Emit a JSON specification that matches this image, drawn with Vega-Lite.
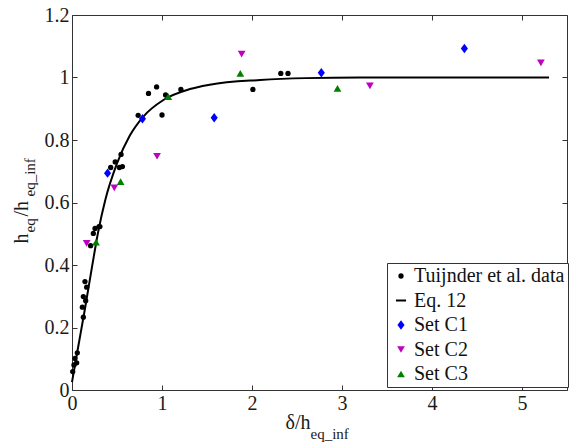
{
  "$schema": "https://vega.github.io/schema/vega-lite/v6.json",
  "width": 495,
  "height": 375,
  "autosize": {"type": "none"},
  "padding": {"left": 72, "top": 15, "right": 2, "bottom": 53},
  "background": "white",
  "config": {
    "view": {"stroke": null},
    "font": "serif",
    "axis": {
      "grid": false,
      "labelFont": "serif",
      "titleFont": "serif",
      "labelColor": "#1a1a1a",
      "titleColor": "#1a1a1a",
      "domainColor": "#333333",
      "tickColor": "#333333",
      "titleFontWeight": "normal"
    },
    "legend": {"labelFont": "serif"}
  },
  "datasets": {
    "curve": [
      {"x": 0, "y": 0.025},
      {"x": 0.035, "y": 0.083},
      {"x": 0.07, "y": 0.14},
      {"x": 0.144, "y": 0.26},
      {"x": 0.22, "y": 0.39},
      {"x": 0.29, "y": 0.505},
      {"x": 0.367, "y": 0.605},
      {"x": 0.5, "y": 0.725},
      {"x": 0.644, "y": 0.815},
      {"x": 0.793, "y": 0.875},
      {"x": 1.015, "y": 0.928},
      {"x": 1.31, "y": 0.963},
      {"x": 1.53, "y": 0.977},
      {"x": 2.09, "y": 0.992},
      {"x": 2.6, "y": 0.998},
      {"x": 3.2, "y": 1.0},
      {"x": 5.3, "y": 1.0}
    ],
    "pts": [
      {"series": "Tuijnder et al. data", "x": 0.008, "y": 0.059},
      {"series": "Tuijnder et al. data", "x": 0.022, "y": 0.08},
      {"series": "Tuijnder et al. data", "x": 0.033, "y": 0.101},
      {"series": "Tuijnder et al. data", "x": 0.052, "y": 0.087},
      {"series": "Tuijnder et al. data", "x": 0.059, "y": 0.119},
      {"series": "Tuijnder et al. data", "x": 0.115, "y": 0.265},
      {"series": "Tuijnder et al. data", "x": 0.126, "y": 0.233},
      {"series": "Tuijnder et al. data", "x": 0.126, "y": 0.299},
      {"series": "Tuijnder et al. data", "x": 0.144, "y": 0.347},
      {"series": "Tuijnder et al. data", "x": 0.152, "y": 0.286},
      {"series": "Tuijnder et al. data", "x": 0.163, "y": 0.329},
      {"series": "Tuijnder et al. data", "x": 0.207, "y": 0.462},
      {"series": "Tuijnder et al. data", "x": 0.237, "y": 0.501},
      {"series": "Tuijnder et al. data", "x": 0.256, "y": 0.517},
      {"series": "Tuijnder et al. data", "x": 0.3, "y": 0.523},
      {"series": "Tuijnder et al. data", "x": 0.31, "y": 0.523},
      {"series": "Tuijnder et al. data", "x": 0.43, "y": 0.712},
      {"series": "Tuijnder et al. data", "x": 0.48, "y": 0.73},
      {"series": "Tuijnder et al. data", "x": 0.526, "y": 0.712},
      {"series": "Tuijnder et al. data", "x": 0.56, "y": 0.715},
      {"series": "Tuijnder et al. data", "x": 0.545, "y": 0.754},
      {"series": "Tuijnder et al. data", "x": 0.735, "y": 0.879},
      {"series": "Tuijnder et al. data", "x": 0.85, "y": 0.949},
      {"series": "Tuijnder et al. data", "x": 0.94, "y": 0.97},
      {"series": "Tuijnder et al. data", "x": 1.0, "y": 0.88},
      {"series": "Tuijnder et al. data", "x": 1.04, "y": 0.944},
      {"series": "Tuijnder et al. data", "x": 1.21, "y": 0.962},
      {"series": "Tuijnder et al. data", "x": 2.01, "y": 0.962},
      {"series": "Tuijnder et al. data", "x": 2.32, "y": 1.013},
      {"series": "Tuijnder et al. data", "x": 2.4, "y": 1.013},
      {"series": "Set C1", "x": 0.395, "y": 0.694},
      {"series": "Set C1", "x": 0.783, "y": 0.868},
      {"series": "Set C1", "x": 1.58, "y": 0.871},
      {"series": "Set C1", "x": 2.77, "y": 1.015},
      {"series": "Set C1", "x": 4.36, "y": 1.093},
      {"series": "Set C2", "x": 0.163, "y": 0.469},
      {"series": "Set C2", "x": 0.47, "y": 0.647},
      {"series": "Set C2", "x": 0.945, "y": 0.748},
      {"series": "Set C2", "x": 1.885, "y": 1.075},
      {"series": "Set C2", "x": 3.31, "y": 0.973},
      {"series": "Set C2", "x": 5.21, "y": 1.047},
      {"series": "Set C3", "x": 0.267, "y": 0.473},
      {"series": "Set C3", "x": 0.54, "y": 0.667},
      {"series": "Set C3", "x": 1.07, "y": 0.939},
      {"series": "Set C3", "x": 1.87, "y": 1.013},
      {"series": "Set C3", "x": 2.95, "y": 0.965}
    ]
  },
  "layer": [
    {
      "data": {"name": "curve"},
      "mark": {"type": "line", "color": "black", "strokeWidth": 2, "interpolate": "monotone"},
      "encoding": {
        "x": {
          "field": "x", "type": "quantitative",
          "scale": {"domain": [0, 5.5], "nice": false, "zero": false},
          "axis": {"orient": "bottom", "values": [0, 1, 2, 3, 4, 5], "ticks": false, "labelFontSize": 20, "labelPadding": 3, "labelFlush": false, "domain": true,
                   "title": "δ/h", "titleFontSize": 20, "titleX": 213, "titleY": 38, "titleAlign": "left", "titleBaseline": "alphabetic", "titleAngle": 0}
        },
        "y": {
          "field": "y", "type": "quantitative",
          "scale": {"domain": [0, 1.2], "nice": false, "zero": false},
          "axis": {"orient": "left", "values": [0, 0.2, 0.4, 0.6, 0.8, 1, 1.2], "format": "~g", "ticks": false, "labelFontSize": 20, "labelPadding": 3, "labelFlush": false, "domain": true,
                   "title": "h", "titleFontSize": 20, "titleX": -45, "titleY": 228, "titleAngle": 270, "titleAlign": "left", "titleBaseline": "alphabetic"}
        }
      }
    },
    {
      "data": {"name": "pts"},
      "mark": {"type": "point", "filled": true, "opacity": 1, "strokeWidth": 0},
      "encoding": {
        "x": {
          "field": "x", "type": "quantitative",
          "scale": {"domain": [0, 5.5], "nice": false, "zero": false},
          "axis": {"orient": "top", "values": [0, 1, 2, 3, 4, 5], "labels": false, "tickSize": -5, "domain": true, "title": null}
        },
        "y": {
          "field": "y", "type": "quantitative",
          "scale": {"domain": [0, 1.2], "nice": false, "zero": false},
          "axis": {"orient": "right", "values": [0, 0.2, 0.4, 0.6, 0.8, 1, 1.2], "labels": false, "tickSize": -5, "domain": true, "title": null}
        },
        "color": {
          "field": "series", "type": "nominal",
          "scale": {"domain": ["Tuijnder et al. data", "Eq. 12", "Set C1", "Set C2", "Set C3"], "range": ["#000000", "#000000", "#0000ff", "#bf00bf", "#008000"]},
          "legend": {"title": null, "orient": "none", "legendX": 315, "legendY": 248, "padding": 3, "symbolOffset": 1, "symbolSize": 25, "labelFontSize": 20, "labelOffset": 3, "labelLimit": 300, "rowPadding": 4.5, "fillColor": "white", "strokeColor": "#333333", "labelColor": "#111111"}
        },
        "stroke": {
          "field": "series", "type": "nominal",
          "scale": {"domain": ["Tuijnder et al. data", "Eq. 12", "Set C1", "Set C2", "Set C3"], "range": ["#000000", "#000000", "#0000ff", "#bf00bf", "#008000"]},
          "legend": {"title": null, "orient": "none", "legendX": 315, "legendY": 248, "padding": 3, "symbolOffset": 1, "symbolSize": 25, "labelFontSize": 20, "labelOffset": 3, "labelLimit": 300, "rowPadding": 4.5, "fillColor": "white", "strokeColor": "#333333", "labelColor": "#111111"}
        },
        "strokeWidth": {
          "field": "series", "type": "nominal",
          "scale": {"type": "ordinal", "domain": ["Tuijnder et al. data", "Eq. 12", "Set C1", "Set C2", "Set C3"], "range": [0, 2, 0, 0, 0]},
          "legend": {"title": null, "orient": "none", "legendX": 315, "legendY": 248, "padding": 3, "symbolOffset": 1, "symbolSize": 25, "labelFontSize": 20, "labelOffset": 3, "labelLimit": 300, "rowPadding": 4.5, "fillColor": "white", "strokeColor": "#333333", "labelColor": "#111111"}
        },
        "shape": {
          "field": "series", "type": "nominal",
          "scale": {"domain": ["Tuijnder et al. data", "Eq. 12", "Set C1", "Set C2", "Set C3"], "range": ["circle", "M-3.2,0H3.2", "M0,-1L0.75,0L0,1L-0.75,0Z", "triangle-down", "triangle-up"]},
          "legend": {"title": null, "orient": "none", "legendX": 315, "legendY": 248, "padding": 3, "symbolOffset": 1, "symbolSize": 25, "labelFontSize": 20, "labelOffset": 3, "labelLimit": 300, "rowPadding": 4.5, "fillColor": "white", "strokeColor": "#333333", "labelColor": "#111111"}
        },
        "size": {
          "field": "series", "type": "nominal",
          "scale": {"type": "ordinal", "domain": ["Tuijnder et al. data", "Eq. 12", "Set C1", "Set C2", "Set C3"], "range": [28, 10, 90, 60, 60]},
          "legend": null
        }
      }
    },
    {
      "data": {"name": "curve"},
      "mark": {"type": "point", "opacity": 0},
      "encoding": {
        "x": {
          "field": "x", "type": "quantitative",
          "scale": {"domain": [0, 5.5], "nice": false, "zero": false},
          "axis": {"orient": "bottom", "values": [0, 1, 2, 3, 4, 5], "labels": false, "domain": false, "tickSize": -5,
                   "title": "eq_inf", "titleFontSize": 15, "titleX": 238, "titleY": 48, "titleAlign": "left", "titleBaseline": "alphabetic", "titleAngle": 0}
        },
        "y": {
          "field": "y", "type": "quantitative",
          "scale": {"domain": [0, 1.2], "nice": false, "zero": false},
          "axis": {"orient": "left", "values": [0, 0.2, 0.4, 0.6, 0.8, 1, 1.2], "labels": false, "domain": false, "tickSize": -5,
                   "title": "eq", "titleFontSize": 15, "titleX": -38, "titleY": 217, "titleAngle": 270, "titleAlign": "left", "titleBaseline": "alphabetic"}
        }
      }
    },
    {
      "data": {"name": "curve"},
      "mark": {"type": "point", "opacity": 0},
      "encoding": {
        "x": {"field": "x", "type": "quantitative", "scale": {"domain": [0, 5.5], "nice": false, "zero": false}, "axis": null},
        "y": {
          "field": "y", "type": "quantitative",
          "scale": {"domain": [0, 1.2], "nice": false, "zero": false},
          "axis": {"orient": "left", "labels": false, "domain": false, "ticks": false,
                   "title": "/h", "titleFontSize": 20, "titleX": -45, "titleY": 201, "titleAngle": 270, "titleAlign": "left", "titleBaseline": "alphabetic"}
        }
      }
    },
    {
      "data": {"name": "curve"},
      "mark": {"type": "point", "opacity": 0},
      "encoding": {
        "x": {"field": "x", "type": "quantitative", "scale": {"domain": [0, 5.5], "nice": false, "zero": false}, "axis": null},
        "y": {
          "field": "y", "type": "quantitative",
          "scale": {"domain": [0, 1.2], "nice": false, "zero": false},
          "axis": {"orient": "left", "labels": false, "domain": false, "ticks": false,
                   "title": "eq_inf", "titleFontSize": 15, "titleX": -38, "titleY": 181, "titleAngle": 270, "titleAlign": "left", "titleBaseline": "alphabetic"}
        }
      }
    }
  ],
  "resolve": {"axis": {"x": "independent", "y": "independent"}}
}
